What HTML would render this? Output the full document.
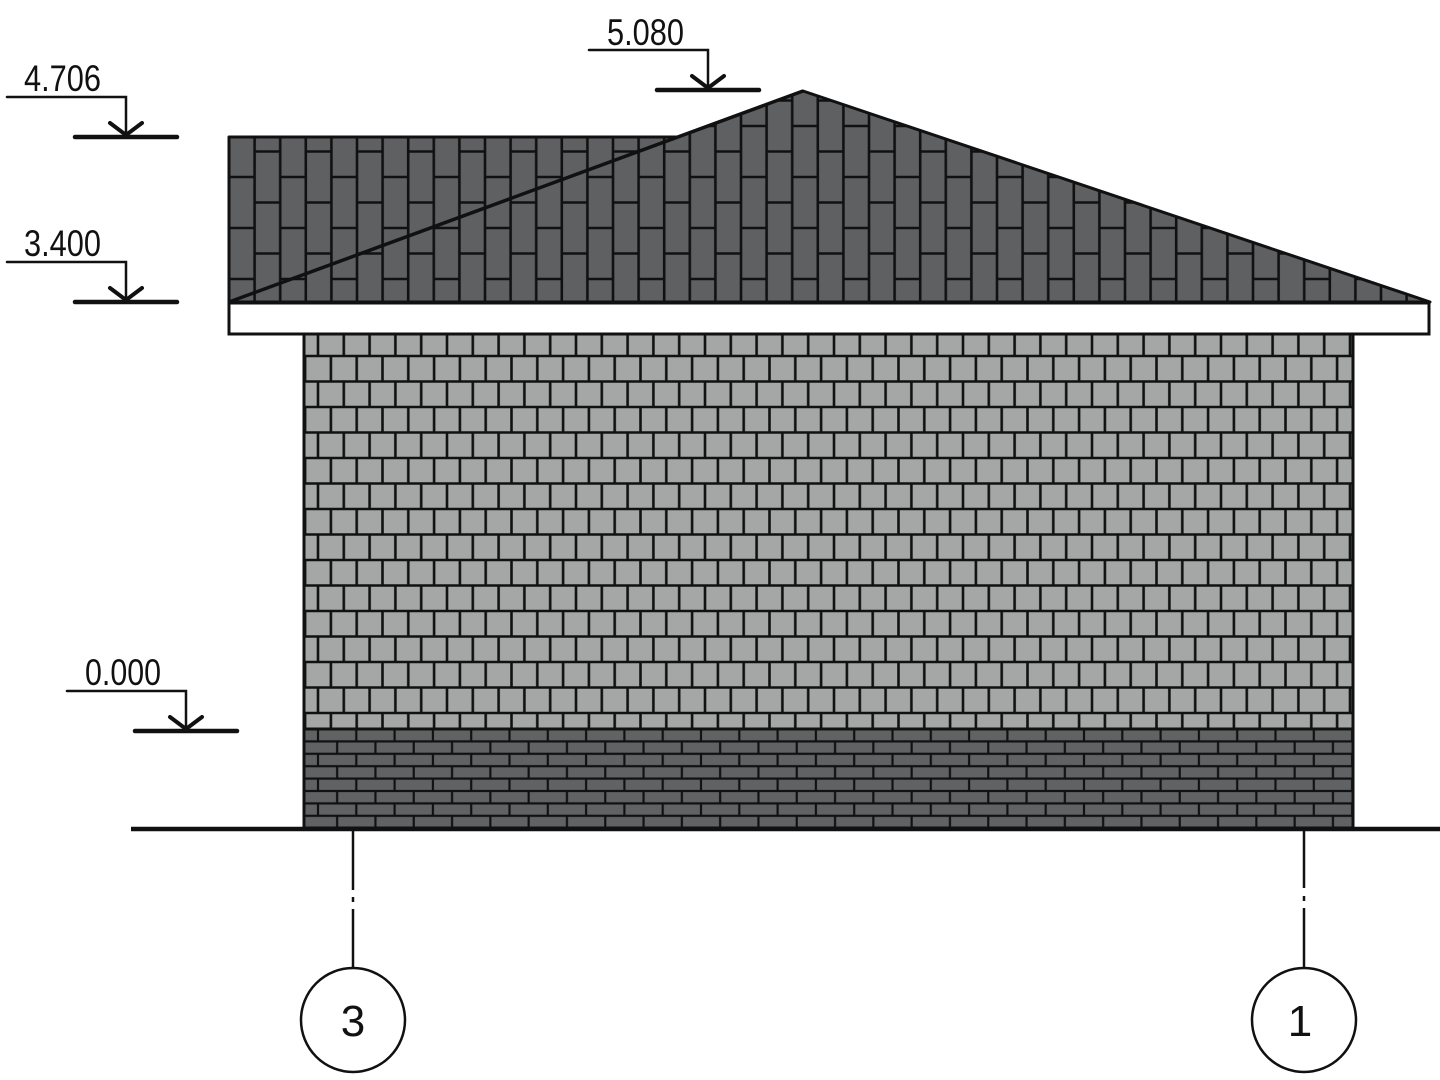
<!DOCTYPE html>
<html><head><meta charset="utf-8"><style>
html,body{margin:0;padding:0;background:#fff;}
svg{display:block;}
text{font-family:"Liberation Sans Narrow","Liberation Sans",sans-serif;fill:#111;}
</style></head><body>
<svg width="1440" height="1080" viewBox="0 0 1440 1080" xmlns="http://www.w3.org/2000/svg">
<defs>
  <pattern id="roof" patternUnits="userSpaceOnUse" x="229" y="126" width="51.2" height="51">
    <rect width="51.2" height="51" fill="#5f6062"/>
    <g stroke="#111" stroke-width="2.6">
    <line x1="0" y1="0" x2="0" y2="51"/>
    <line x1="51.2" y1="0" x2="51.2" y2="51"/>
    <line x1="25.6" y1="0" x2="25.6" y2="51"/>
    <line x1="0" y1="0" x2="25.6" y2="0"/>
    <line x1="0" y1="51" x2="25.6" y2="51"/>
    <line x1="25.6" y1="25.5" x2="51.2" y2="25.5"/>
    </g>
  </pattern>
  <pattern id="wall" patternUnits="userSpaceOnUse" x="318" y="305" width="25.8" height="51">
    <rect width="25.8" height="51" fill="#a4a7a6"/>
    <g stroke="#111" stroke-width="2.6">
    <line x1="0" y1="0" x2="25.8" y2="0"/>
    <line x1="0" y1="51" x2="25.8" y2="51"/>
    <line x1="0" y1="25.5" x2="25.8" y2="25.5"/>
    <line x1="12.9" y1="0" x2="12.9" y2="25.5"/>
    <line x1="0" y1="25.5" x2="0" y2="51"/>
    <line x1="25.8" y1="25.5" x2="25.8" y2="51"/>
    </g>
  </pattern>
  <pattern id="plinth" patternUnits="userSpaceOnUse" x="318" y="729" width="38.3" height="24.8">
    <rect width="38.3" height="24.8" fill="#616264"/>
    <g stroke="#111" stroke-width="2.2">
    <line x1="0" y1="0" x2="38.3" y2="0"/>
    <line x1="0" y1="24.8" x2="38.3" y2="24.8"/>
    <line x1="0" y1="12.4" x2="38.3" y2="12.4"/>
    <line x1="0" y1="0" x2="0" y2="12.4"/>
    <line x1="38.3" y1="0" x2="38.3" y2="12.4"/>
    <line x1="19.15" y1="12.4" x2="19.15" y2="24.8"/>
    </g>
  </pattern>
</defs>

<polygon points="229,137 678,137 803,91 1430,302 229,302" fill="url(#roof)" stroke="#111" stroke-width="3" stroke-linejoin="round"/>
<line x1="229" y1="302" x2="803" y2="91" stroke="#111" stroke-width="3.5"/>
<rect x="229" y="303" width="1200" height="31" fill="#fff" stroke="#111" stroke-width="3"/>
<rect x="304" y="334" width="1049" height="395" fill="url(#wall)"/>
<rect x="304" y="729" width="1049" height="99" fill="url(#plinth)"/>
<line x1="304" y1="729" x2="1353" y2="729" stroke="#111" stroke-width="3"/>
<rect x="304" y="334" width="1049" height="494" fill="none" stroke="#111" stroke-width="3"/>
<line x1="131" y1="829" x2="1440" y2="829" stroke="#111" stroke-width="4.5"/>

<g stroke="#111" stroke-width="2.5" fill="none">
  <line x1="353" y1="831" x2="353" y2="890"/>
  <line x1="353" y1="897" x2="353" y2="902"/>
  <line x1="353" y1="909" x2="353" y2="968"/>
  <circle cx="353" cy="1020" r="52"/>
  <line x1="1304" y1="831" x2="1304" y2="888"/>
  <line x1="1304" y1="896" x2="1304" y2="901"/>
  <line x1="1304" y1="908" x2="1304" y2="968"/>
  <circle cx="1304" cy="1020" r="52"/>
</g>
<text x="353" y="1036" font-size="44" text-anchor="middle">3</text>
<text x="1300" y="1036" font-size="44" text-anchor="middle">1</text>

<g stroke="#111" fill="none" stroke-linecap="round">
  <polyline points="7,97 126,97 126,135" stroke-width="2.5"/>
  <polyline points="110,123 126,135 142,123" stroke-width="4"/>
  <line x1="75" y1="137" x2="177" y2="137" stroke-width="4.5"/>
  <polyline points="7,262 126,262 126,300" stroke-width="2.5"/>
  <polyline points="110,288 126,300 142,288" stroke-width="4"/>
  <line x1="75" y1="302" x2="177" y2="302" stroke-width="4.5"/>
  <polyline points="67,691 186,691 186,729" stroke-width="2.5"/>
  <polyline points="170,717 186,729 202,717" stroke-width="4"/>
  <line x1="135" y1="731" x2="237" y2="731" stroke-width="4.5"/>
  <polyline points="589,50 708,50 708,88" stroke-width="2.5"/>
  <polyline points="692,76 708,88 724,76" stroke-width="4"/>
  <line x1="657" y1="90" x2="759" y2="90" stroke-width="4.5"/>
</g>
<text x="24" y="91" font-size="37" textLength="77" lengthAdjust="spacingAndGlyphs">4.706</text>
<text x="24" y="256" font-size="37" textLength="77" lengthAdjust="spacingAndGlyphs">3.400</text>
<text x="85" y="685" font-size="37" textLength="76" lengthAdjust="spacingAndGlyphs">0.000</text>
<text x="607" y="45" font-size="37" textLength="77" lengthAdjust="spacingAndGlyphs">5.080</text>
</svg>
</body></html>
